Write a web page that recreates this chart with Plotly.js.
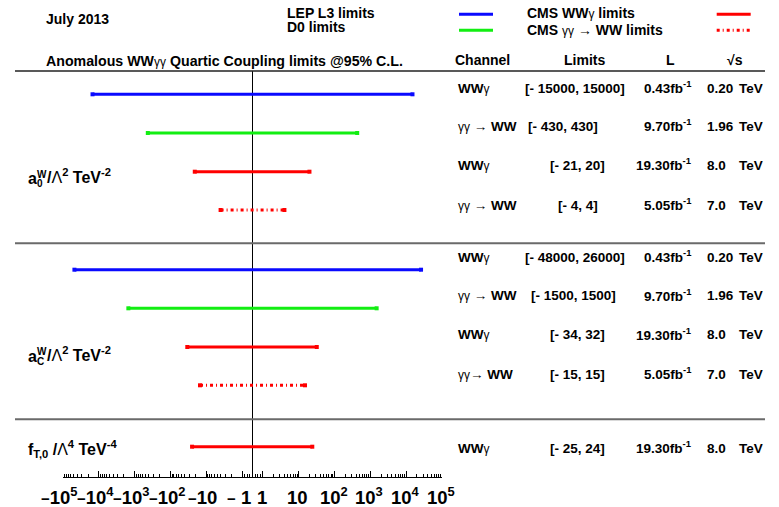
<!DOCTYPE html>
<html><head><meta charset="utf-8">
<script src="https://cdn.plot.ly/plotly-3.0.1.min.js"></script>
<style>html,body{margin:0;padding:0;background:#fff}</style>
</head><body><div id="chart" style="width:779px;height:507px"></div>
<script>
// ---------------- data ----------------
const rowCoupling   = ['a0', 'a0', 'a0', 'a0', 'aC', 'aC', 'aC', 'aC', 'fT0'];
const rowExperiment = ['LEP L3', 'D0', 'CMS WWγ', 'CMS γγ→WW', 'LEP L3', 'D0', 'CMS WWγ', 'CMS γγ→WW', 'CMS WWγ'];
const rowChannel    = ['WWγ', 'γγ → WW', 'WWγ', 'γγ → WW', 'WWγ', 'γγ → WW', 'WWγ', 'γγ→ WW', 'WWγ'];
const rowLow        = [-15000, -430, -21, -4, -48000, -1500, -34, -15, -25];
const rowHigh       = [15000, 430, 20, 4, 26000, 1500, 32, 15, 24];
const rowLumi       = ['0.43', '9.70', '19.30', '5.05', '0.43', '9.70', '19.30', '5.05', '19.30'];
const rowSqrtS      = ['0.20', '1.96', '8.0', '7.0', '0.20', '1.96', '8.0', '7.0', '8.0'];
const tickValues    = [-1e5, -1e4, -1e3, -1e2, -10, -1, 1, 10, 1e2, 1e3, 1e4, 1e5];
const tickLabels    = ['−10<sup>5</sup>', '−10<sup>4</sup>', '−10<sup>3</sup>', '−10<sup>2</sup>', '−10', '− 1', '1', '10',
                       '10<sup>2</sup>', '10<sup>3</sup>', '10<sup>4</sup>', '10<sup>5</sup>'];
const legendOrder   = ['LEP L3', 'D0', 'CMS WWγ', 'CMS γγ→WW'];
const legendLabels  = ['LEP L3 limits', 'D0 limits', 'CMS WWγ limits', 'CMS γγ → WW limits'];

// ---------------- layout constants (pixels) ----------------
const W = 779, H = 507, ML = 63, MR = 337, MB = 30;
const PW = W - ML - MR, PH = H - MB;
const K = 0.2885;                      // symmetric-log offset
function tf(v) { const a = Math.abs(v); return a >= 1 ? Math.sign(v) * (Math.log10(a) + K) : v * K; }
const U = 5 + K;
const barY   = [94.3, 133, 171.7, 210, 269.7, 308.3, 347, 385.3, 446.7];
const textY  = [88, 126.7, 165.7, 205, 257.3, 296, 335, 374, 448.3];
const limitX = [525, 528, 550, 558, 525, 530.7, 550, 550, 550];
const style = {
  'LEP L3':    {color: '#0a0aff', dash: 'solid'},
  'D0':        {color: '#12ee12', dash: 'solid'},
  'CMS WWγ':   {color: '#ff0000', dash: 'solid'},
  'CMS γγ→WW': {color: '#ff0000', dash: '3px,3px,1px,3px'}
};
const px = x => (x - ML) / PW;
const py = y => (PH - y) / PH;
const FONT = 'Liberation Sans, Arial, Helvetica, sans-serif';
const sym = (s, size) => s.replace(/γ/g, '<span style="font-weight:normal;font-size:' + (size || 12) + 'px">γ</span>');

function ann(x, y, text, o) {
  o = o || {};
  return {xref: 'paper', yref: 'paper', x: px(x), y: py(y), text: text, showarrow: false,
          xanchor: o.xanchor || 'left', yanchor: o.yanchor || 'middle', borderpad: 0, borderwidth: 0,
          font: {family: FONT, size: o.size || 13.5, weight: o.weight || 'bold', color: '#000'}};
}

// ---------------- traces ----------------
const traces = [];
traces.push({x: [0, 0], y: [71, PH], mode: 'lines', line: {color: '#000', width: 1}, hoverinfo: 'skip', showlegend: false});
for (let i = 0; i < rowLow.length; i++) {
  const s = style[rowExperiment[i]];
  traces.push({
    x: [tf(rowLow[i]), tf(rowHigh[i])], y: [barY[i], barY[i]],
    mode: 'lines+markers', name: rowExperiment[i],
    line: {color: s.color, width: 3, dash: s.dash},
    marker: {symbol: 'square', size: 4, color: s.color},
    showlegend: false, hoverinfo: 'x'
  });
}

// ---------------- annotations & shapes ----------------
const annotations = [];
const shapes = [];
annotations.push(ann(45.7, 19.3, 'July 2013', {size: 14}));
annotations.push(ann(45.7, 61, 'Anomalous WW' + sym('γγ', 12) + ' Quartic Coupling limits @95% C.L.', {size: 14.2}));
// legend
const legX = [286.7, 286.7, 526.7, 526.7], legTY = [12.7, 27.3, 12.7, 30];
const legLineX = [459, 459, 716.7, 716.7], legLineY = [14.3, 30.3, 14.3, 30.3];
legendOrder.forEach((e, i) => {
  annotations.push(ann(legX[i], legTY[i], sym(legendLabels[i], 12), {size: 14}));
  shapes.push({type: 'line', xref: 'paper', yref: 'paper', x0: px(legLineX[i]), x1: px(legLineX[i] + 34),
               y0: py(legLineY[i]), y1: py(legLineY[i]), line: {color: style[e].color, width: 3, dash: style[e].dash}});
});
// headers
annotations.push(ann(482.7, 60, 'Channel', {xanchor: 'center', size: 14}));
annotations.push(ann(584.3, 60, 'Limits', {xanchor: 'center', size: 14}));
annotations.push(ann(670.7, 60, 'L', {xanchor: 'center', size: 14}));
annotations.push(ann(735, 60, '√s', {xanchor: 'center', size: 14}));
// separators
[[71, '#222', 1.5], [243.3, '#6a6a6a', 2], [419.3, '#6a6a6a', 2]].forEach(s => {
  shapes.push({type: 'line', xref: 'paper', yref: 'paper', x0: px(15), x1: px(765), y0: py(s[0]), y1: py(s[0]),
               line: {color: s[1], width: s[2]}});
});
// table rows
for (let i = 0; i < rowLow.length; i++) {
  annotations.push(ann(458.3, textY[i], sym(rowChannel[i], 12)));
  annotations.push(ann(limitX[i], textY[i], '[- ' + Math.abs(rowLow[i]) + ', ' + rowHigh[i] + ']'));
  annotations.push(ann(691, textY[i] - 1.5, rowLumi[i] + 'fb<sup>-1</sup>', {xanchor: 'right'}));
  annotations.push(ann(706.7, textY[i], rowSqrtS[i]));
  annotations.push(ann(762.7, textY[i], 'TeV', {xanchor: 'right'}));
}
// coupling labels
const couplingRows = {a0: [178.5, '0'], aC: [356, 'C']};
Object.keys(couplingRows).forEach(k => {
  const y = couplingRows[k][0];
  annotations.push(ann(28.3, y, 'a', {size: 16}));
  annotations.push(ann(37, y - 4.5, 'W', {size: 10}));
  annotations.push(ann(37, y + 5, couplingRows[k][1], {size: 10}));
  annotations.push(ann(47, y - 2, '/<span style="font-weight:normal">Λ</span><sup>2</sup> TeV<sup>-2</sup>', {size: 16}));
});
annotations.push(ann(27.7, 449, 'f<sub>T,0</sub> /<span style="font-weight:normal">Λ</span><sup>4</sup> TeV<sup>-4</sup>', {size: 16}));

// axis tick labels (placed like the original, negatives nudged left)
tickValues.forEach((v, i) => {
  const txt = tickLabels[i].replace('−', '<span style="font-size:15px">−</span>');
  annotations.push({xref: 'x', yref: 'paper', x: tf(v), y: py(508), xshift: v < 0 ? -3.5 : -1,
                    text: txt, showarrow: false, xanchor: 'center', yanchor: 'bottom',
                    borderpad: 0, borderwidth: 0,
                    font: {family: FONT, size: 18.5, weight: 'bold', color: '#000'}});
});

// minor ticks
const minor = [];
for (let d = 0; d < 5; d++) for (let m = 2; m <= 9; m++) { minor.push(tf(m * Math.pow(10, d))); minor.push(tf(-m * Math.pow(10, d))); }
[0.25, 0.5, 0.75].forEach(v => { minor.push(tf(v)); minor.push(tf(-v)); });

const layout = {
  width: W, height: H, margin: {l: ML, r: MR, t: 0, b: MB, pad: 0},
  paper_bgcolor: '#fff', plot_bgcolor: 'rgba(0,0,0,0)', showlegend: false,
  font: {family: FONT, color: '#000'},
  xaxis: {range: [-U, U], showline: true, linecolor: '#000', linewidth: 1, showgrid: false, zeroline: false,
          ticks: 'inside', ticklen: 6, tickwidth: 1, tickcolor: '#000',
          tickmode: 'array', tickvals: tickValues.map(tf), showticklabels: false,
          minor: {tickmode: 'array', tickvals: minor, ticks: 'inside', ticklen: 3, tickcolor: '#000', tickwidth: 1, showgrid: false},
          fixedrange: true, automargin: false},
  yaxis: {range: [PH, 0], visible: false, fixedrange: true, automargin: false},
  annotations: annotations, shapes: shapes
};
Plotly.newPlot('chart', traces, layout, {displayModeBar: false, staticPlot: true});
</script></body></html>
